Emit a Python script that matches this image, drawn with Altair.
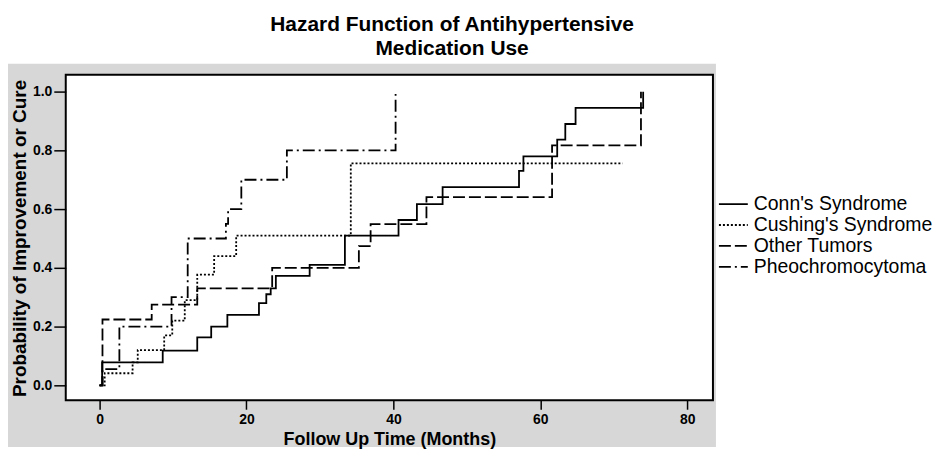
import altair as alt
import pandas as pd

series = ["Conn's Syndrome", "Cushing's Syndrome", "Other Tumors", "Pheochromocytoma"]

conn_t = [0, 0.35, 8.6, 13.3, 15.2, 17.4, 21.7, 22.7, 23.3, 24.0, 28.6, 33.4, 40.7, 43.2, 46.7, 57.1, 57.7, 62.3, 63.4, 64.8, 74.0, 74.0]
conn_v = [0, 0.078, 0.118, 0.163, 0.20, 0.24, 0.28, 0.31, 0.33, 0.373, 0.41, 0.51, 0.563, 0.617, 0.675, 0.73, 0.78, 0.837, 0.89, 0.945, 0.97, 1.0]

cush_t = [0, 0.7, 4.5, 5.2, 8.8, 9.9, 11.6, 13.3, 15.6, 18.6, 34.2, 71.2]
cush_v = [0, 0.041, 0.078, 0.12, 0.17, 0.22, 0.29, 0.377, 0.44, 0.51, 0.756, 0.756]

oth_t = [0, 0.4, 7.1, 13.3, 23.5, 35.3, 36.9, 44.5, 61.6, 73.7]
oth_v = [0, 0.224, 0.275, 0.33, 0.40, 0.474, 0.549, 0.641, 0.817, 1.0]

phe_t = [0, 0.4, 2.7, 9.8, 12.0, 17.2, 17.5, 19.3, 25.5, 40.3]
phe_v = [0, 0.055, 0.20, 0.30, 0.50, 0.55, 0.60, 0.70, 0.80, 1.0]

x_ticks = [0, 20, 40, 60, 80]
y_ticks = [0.0, 0.2, 0.4, 0.6, 0.8, 1.0]

rows = []
for name, ts, vs in zip(series, [conn_t, cush_t, oth_t, phe_t], [conn_v, cush_v, oth_v, phe_v]):
    for i, (t, v) in enumerate(zip(ts, vs)):
        rows.append({"series": name, "time": t, "prob": v, "order": i})
df = pd.DataFrame(rows)

W, H = 650, 327
FONT = "Liberation Sans"

xscale = alt.Scale(domain=[-4.6, 83.5], nice=False, zero=False)
yscale = alt.Scale(domain=[-0.051, 1.058], nice=False, zero=False)

one = pd.DataFrame({"k": [0]})

grey = alt.Chart(one).mark_rect(color="#d7d7d7", clip=False).encode(
    x=alt.value(-58), x2=alt.value(653), y=alt.value(-11), y2=alt.value(374)
)
box = alt.Chart(one).mark_rect(fill="white", stroke="black", strokeWidth=2).encode(
    x=alt.value(0), x2=alt.value(W), y=alt.value(0), y2=alt.value(H)
)

lines = alt.Chart(df).mark_line(interpolate="step-after", color="black", strokeWidth=1.8).encode(
    x=alt.X("time:Q", scale=xscale,
            axis=alt.Axis(values=x_ticks, title="Follow Up Time (Months)", grid=False, domain=False,
                          tickSize=9, tickWidth=1.5, tickColor="black",
                          labelFontSize=14, labelFontWeight="bold", labelColor="black", labelPadding=3,
                          labelFont=FONT, titleFont=FONT,
                          titleFontSize=18, titleFontWeight="bold", titleColor="black",
                          titleBaseline="middle", titleY=39, zindex=1)),
    y=alt.Y("prob:Q", scale=yscale,
            axis=alt.Axis(values=y_ticks, format=".1f", title="Probability of Improvement or Cure",
                          grid=False, domain=False, tickSize=12, tickWidth=1.5, tickColor="black",
                          labelFontSize=14, labelFontWeight="bold", labelColor="black", labelPadding=2,
                          labelFont=FONT, titleFont=FONT,
                          titleFontSize=19, titleFontWeight="bold", titleColor="black",
                          titleX=-46, titleY=164, titleBaseline="middle", titleAlign="center",
                          titleAngle=270, zindex=1)),
    strokeDash=alt.StrokeDash("series:N",
                              scale=alt.Scale(domain=series, range=[[1, 0], [2, 2], [12, 4], [12, 4, 2, 4]]),
                              legend=alt.Legend(title=None, orient="none", legendX=659.5, legendY=119,
                                                symbolType="M-1.45,0H1.45", symbolSize=400,
                                                symbolStrokeWidth=1.8, symbolFillColor="transparent",
                                                symbolStrokeColor="black", labelFontSize=19.5,
                                                labelFont=FONT, labelColor="black", labelOffset=9.5,
                                                labelLimit=400, rowPadding=0)),
    order="order:Q",
)

chart = alt.layer(grey, box, lines).properties(
    width=W, height=H, padding={"top": 5, "left": 0, "right": 0, "bottom": 0},
    title=alt.TitleParams(["Hazard Function of Antihypertensive", "Medication Use"],
                          fontSize=21, fontWeight="bold", font=FONT, color="black",
                          anchor="middle", frame="group", dx=63, lineHeight=24, offset=5),
).configure_view(stroke=None).configure(background="white")

chart.save("out.html", embed_options={"renderer": "svg", "actions": False})
